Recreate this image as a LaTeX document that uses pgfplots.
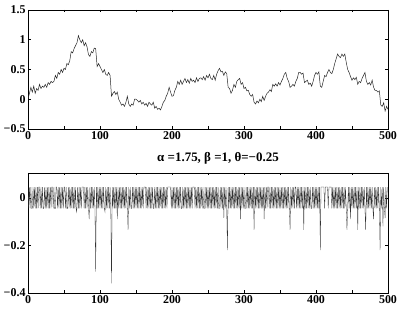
\documentclass[border=0pt]{standalone}
\usepackage{fontspec}
\setmainfont{Liberation Serif}
\usepackage{pgfplots}
\pgfplotsset{compat=1.18}
\begin{document}
\begin{tikzpicture}
\useasboundingbox (0,0) rectangle (399bp,310bp);
\pgfplotsset{
  myax/.style={
    scale only axis, width=360bp,
    xmin=0, xmax=500,
    xtick={0,100,...,500},
    minor xtick={50,150,...,450},
    tick align=inside,
    major tick length=2.5bp, minor tick length=2.5bp,
    every tick/.style={black, line width=0.5pt},
    axis line style={line width=0.8pt},
    tick label style={font=\fontsize{12}{13}\selectfont\bfseries},
    /pgf/number format/assume math mode=true,
    xticklabel style={yshift=1bp},
    yticklabel style={xshift=1bp},
    clip=true,
  }
}
\begin{axis}[myax, at={(28bp,181bp)}, anchor=south west, height=119bp,
  ymin=-0.5, ymax=1.5, ytick={-0.5,0,0.5,1,1.5},
  yticklabels={−0.5,0,0.5,1,1.5}]
\addplot[black!85, line width=0.5pt] coordinates {
(0,0.0)(2,0.1)(4,0.2)(6,0.12)(8,0.22)(10,0.1)(12,0.18)(14,0.15)(16,0.25)(18,0.18)
(20,0.22)(22,0.2)(24,0.25)(26,0.2)(28,0.28)(30,0.25)(32,0.3)(34,0.28)(36,0.3)(38,0.4)
(40,0.35)(42,0.45)(44,0.42)(46,0.5)(48,0.45)(50,0.52)(52,0.5)(54,0.6)(56,0.58)(58,0.65)
(60,0.8)(62,0.78)(64,0.85)(66,0.9)(68,0.95)(70,1.07)(72,1.0)(74,0.95)(76,1.0)(78,0.9)
(80,0.95)(82,0.88)(84,0.75)(86,0.72)(88,0.8)(90,0.78)(92,0.86)(94,0.85)(96,0.55)(98,0.6)
(100,0.55)(102,0.5)(104,0.45)(106,0.5)(108,0.42)(110,0.4)(112,0.45)(114,0.4)(116,0.05)(118,0.1)
(120,0.13)(122,0.08)(124,0.12)(126,0.0)(128,-0.05)(130,-0.1)(132,-0.08)(134,-0.12)(136,-0.05)(138,0.05)
(140,-0.08)(142,-0.12)(144,-0.08)(146,-0.1)(148,0.0)(150,0.0)(152,-0.02)(154,-0.05)(156,-0.02)(158,-0.08)
(160,-0.05)(162,-0.1)(164,-0.07)(166,-0.12)(168,-0.05)(170,-0.08)(172,-0.1)(174,-0.05)(176,-0.15)(178,-0.12)
(180,-0.17)(182,-0.15)(184,-0.18)(186,-0.12)(188,-0.05)(190,-0.02)(192,0.05)(194,0.1)(196,0.2)(198,0.12)
(200,0.05)(202,0.06)(204,0.15)(206,0.2)(208,0.3)(210,0.25)(212,0.32)(214,0.25)(216,0.3)(218,0.35)
(220,0.28)(222,0.33)(224,0.27)(226,0.35)(228,0.3)(230,0.32)(232,0.28)(234,0.36)(236,0.3)(238,0.35)
(240,0.36)(242,0.33)(244,0.38)(246,0.32)(248,0.4)(250,0.36)(252,0.42)(254,0.35)(256,0.33)(258,0.4)
(260,0.32)(262,0.42)(264,0.48)(266,0.52)(268,0.46)(270,0.47)(272,0.4)(274,0.46)(276,0.43)(278,0.2)
(280,0.18)(282,0.1)(284,0.15)(286,0.25)(288,0.2)(290,0.3)(292,0.33)(294,0.35)(296,0.25)(298,0.28)
(300,0.18)(302,0.2)(304,0.14)(306,0.15)(308,0.08)(310,0.05)(312,0.08)(314,-0.05)(316,-0.08)(318,-0.03)
(320,-0.06)(322,0.0)(324,-0.04)(326,0.05)(328,-0.02)(330,0.05)(332,0.1)(334,0.12)(336,0.16)(338,0.13)
(340,0.25)(342,0.22)(344,0.26)(346,0.22)(348,0.28)(350,0.24)(352,0.3)(354,0.35)(356,0.42)(358,0.45)
(360,0.35)(362,0.3)(364,0.2)(366,0.22)(368,0.25)(370,0.22)(372,0.3)(374,0.35)(376,0.45)(378,0.45)
(380,0.42)(382,0.44)(384,0.28)(386,0.3)(388,0.32)(390,0.25)(392,0.27)(394,0.22)(396,0.3)(398,0.4)
(400,0.45)(402,0.42)(404,0.46)(406,0.22)(408,0.2)(410,0.3)(412,0.4)(414,0.38)(416,0.45)(418,0.5)
(420,0.45)(422,0.43)(424,0.5)(426,0.6)(428,0.68)(430,0.76)(432,0.72)(434,0.7)(436,0.76)(438,0.72)
(440,0.76)(442,0.62)(444,0.5)(446,0.45)(448,0.38)(450,0.32)(452,0.36)(454,0.33)(456,0.37)(458,0.25)
(460,0.3)(462,0.28)(464,0.35)(466,0.4)(468,0.45)(470,0.3)(472,0.25)(474,0.28)(476,0.24)(478,0.32)
(480,0.2)(482,0.15)(484,0.15)(486,0.12)(488,0.14)(490,-0.1)(492,-0.12)(494,-0.06)(496,-0.2)(498,-0.12)
(500,-0.17)
};
\end{axis}
\node[font=\fontsize{13}{15}\selectfont\bfseries] at (218bp,152bp) {α =1.75, β =1, θ=−0.25};
\begin{axis}[myax, at={(28bp,17bp)}, anchor=south west, height=120bp,
  ymin=-0.4, ymax=0.104, ytick={-0.4,-0.2,0},
  yticklabels={−0.4,−0.2,0}]
\addplot[black!80, line width=0.3pt] table[row sep=\\, header=false, x expr=\coordindex, y index=0] {
0.045\\-0.045\\0.045\\-0.045\\0.045\\-0.045\\-0.045\\0.045\\-0.045\\0.045\\
-0.045\\0.045\\-0.045\\0.045\\-0.045\\0.045\\0.045\\-0.045\\0.045\\-0.045\\
0.045\\-0.045\\-0.045\\0.045\\-0.045\\0.045\\-0.045\\0.045\\-0.045\\0.045\\
-0.045\\0.045\\-0.045\\0.045\\0.045\\-0.045\\0.045\\-0.045\\-0.045\\0.045\\
0.045\\-0.045\\0.045\\-0.045\\0.045\\-0.045\\0.045\\-0.045\\0.045\\-0.045\\
0.045\\0.045\\-0.045\\0.045\\-0.045\\-0.045\\0.045\\-0.045\\0.045\\-0.045\\
0.045\\-0.045\\0.045\\-0.045\\0.045\\-0.045\\0.045\\-0.06\\-0.045\\0.045\\
-0.045\\0.045\\-0.045\\0.045\\-0.045\\0.045\\0.045\\0.045\\-0.045\\0.045\\
-0.045\\0.045\\-0.045\\0.045\\-0.045\\-0.09\\0.045\\-0.045\\0.045\\-0.045\\
0.045\\-0.045\\0.045\\-0.045\\-0.31\\0.045\\-0.045\\0.045\\-0.045\\0.045\\
-0.045\\0.045\\-0.045\\0.045\\-0.045\\0.045\\-0.045\\-0.06\\0.045\\-0.045\\
0.045\\-0.045\\0.045\\-0.045\\0.045\\-0.045\\-0.36\\0.045\\-0.045\\0.045\\
-0.045\\0.045\\-0.045\\0.045\\-0.09\\0.045\\-0.045\\0.045\\-0.045\\0.045\\
-0.045\\0.045\\-0.045\\0.045\\-0.045\\0.045\\-0.045\\0.045\\-0.045\\-0.135\\
0.045\\-0.045\\0.045\\-0.045\\-0.045\\0.045\\-0.045\\0.045\\-0.045\\0.045\\
-0.045\\0.045\\-0.045\\0.045\\-0.045\\0.045\\-0.045\\0.045\\-0.045\\0.045\\
-0.045\\0.045\\0.045\\0.045\\-0.045\\0.045\\-0.045\\0.045\\-0.045\\0.045\\
-0.045\\0.045\\-0.045\\0.045\\-0.045\\-0.045\\0.045\\-0.045\\0.045\\-0.045\\
0.045\\-0.045\\0.045\\-0.045\\0.045\\-0.045\\0.045\\-0.045\\0.045\\-0.045\\
0.045\\-0.045\\0.045\\-0.045\\0.045\\0.045\\0.045\\0.045\\0.045\\-0.045\\
0.045\\-0.045\\0.045\\-0.045\\0.045\\-0.045\\0.045\\-0.045\\0.045\\-0.045\\
0.045\\-0.045\\0.045\\-0.045\\-0.045\\0.045\\-0.045\\0.045\\-0.045\\0.045\\
-0.045\\0.045\\-0.045\\0.045\\-0.045\\0.045\\-0.045\\0.045\\-0.045\\0.045\\
0.045\\0.045\\-0.045\\0.045\\-0.045\\0.045\\-0.045\\0.045\\-0.045\\0.045\\
-0.045\\0.045\\-0.045\\0.045\\-0.045\\-0.045\\0.045\\-0.045\\0.045\\-0.045\\
0.045\\-0.045\\0.045\\-0.045\\0.045\\-0.045\\0.045\\-0.045\\0.045\\-0.045\\
0.045\\-0.045\\0.045\\-0.045\\0.045\\-0.045\\-0.045\\0.045\\-0.045\\0.045\\
-0.045\\0.045\\-0.085\\0.045\\-0.045\\0.045\\-0.045\\-0.22\\0.045\\-0.045\\
0.045\\-0.045\\0.045\\-0.045\\0.045\\-0.045\\0.045\\-0.045\\0.045\\-0.045\\
0.045\\-0.045\\0.045\\-0.045\\0.045\\-0.09\\0.045\\-0.045\\0.045\\-0.045\\
0.045\\-0.045\\-0.045\\0.045\\-0.045\\0.045\\-0.045\\0.045\\-0.045\\0.045\\
-0.045\\0.045\\-0.045\\0.045\\-0.135\\0.045\\-0.045\\0.045\\-0.045\\0.045\\
-0.045\\0.045\\-0.045\\0.045\\-0.045\\0.045\\-0.045\\0.045\\-0.09\\0.045\\
-0.045\\0.045\\-0.045\\0.045\\0.045\\-0.045\\0.045\\-0.045\\0.045\\-0.045\\
0.045\\-0.045\\0.045\\-0.045\\0.045\\-0.045\\0.045\\-0.045\\0.045\\-0.045\\
0.045\\-0.045\\0.045\\-0.045\\0.045\\-0.045\\0.045\\-0.045\\0.045\\-0.045\\
0.045\\-0.045\\0.045\\-0.045\\-0.135\\0.045\\-0.045\\0.045\\-0.045\\0.045\\
-0.045\\0.045\\0.045\\-0.045\\0.045\\-0.045\\0.045\\-0.045\\0.045\\-0.045\\
0.045\\-0.045\\0.045\\-0.135\\0.045\\-0.045\\0.045\\-0.045\\0.045\\-0.045\\
0.045\\-0.045\\0.045\\-0.045\\-0.045\\0.045\\-0.045\\0.045\\-0.045\\0.045\\
-0.045\\0.045\\-0.045\\0.045\\-0.045\\0.045\\-0.22\\0.045\\0.045\\0.045\\
0.045\\0.045\\-0.045\\0.045\\0.045\\0.045\\0.045\\-0.045\\0.045\\0.045\\
0.045\\0.045\\-0.045\\0.045\\-0.045\\0.045\\-0.045\\0.045\\-0.045\\0.045\\
-0.045\\0.045\\-0.045\\0.045\\-0.045\\0.045\\-0.045\\0.045\\-0.045\\0.045\\
-0.045\\0.045\\-0.045\\-0.135\\-0.045\\0.045\\-0.045\\0.045\\-0.09\\0.045\\
-0.045\\0.045\\-0.045\\0.045\\-0.045\\0.045\\-0.045\\0.045\\-0.135\\0.045\\
-0.045\\0.045\\-0.045\\0.045\\-0.045\\0.045\\-0.045\\0.045\\-0.045\\-0.135\\
0.045\\-0.045\\0.045\\-0.045\\0.045\\-0.045\\0.045\\-0.045\\0.045\\-0.045\\
-0.09\\0.045\\-0.045\\0.045\\-0.045\\0.045\\-0.045\\0.045\\-0.045\\-0.22\\
0.045\\-0.045\\0.045\\-0.12\\0.045\\-0.045\\-0.085\\0.045\\-0.045\\0.045\\
};
\end{axis}
\end{tikzpicture}
\end{document}
